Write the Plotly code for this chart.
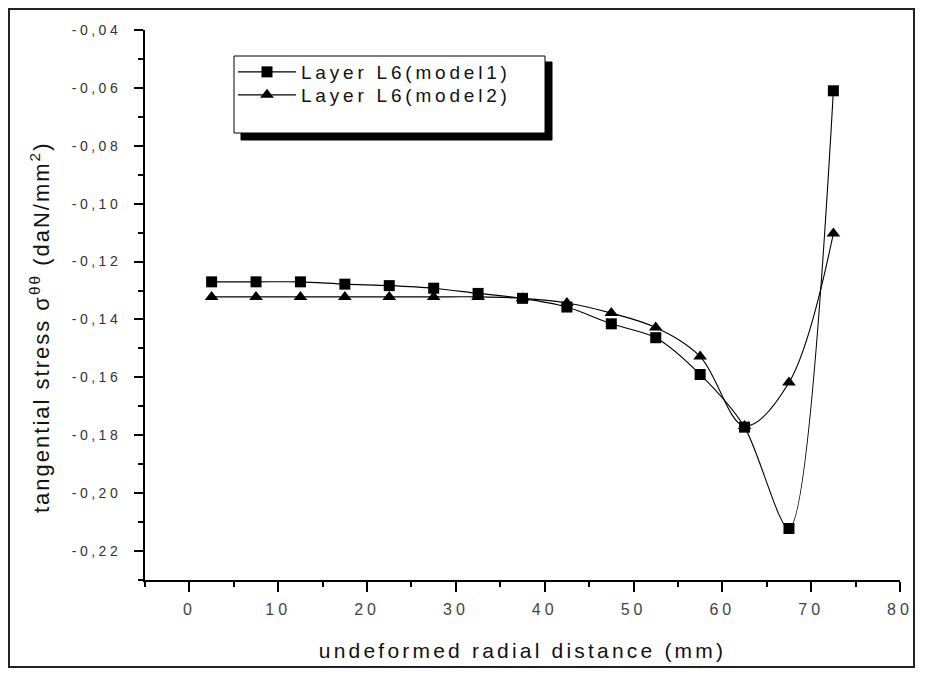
import plotly.graph_objects as go

x_mm = [2.5, 7.5, 12.5, 17.5, 22.5, 27.5, 32.5, 37.5, 42.5, 47.5, 52.5, 57.5, 62.5, 67.5, 72.5]
model1 = [-0.127, -0.127, -0.127, -0.1278, -0.1283, -0.1292, -0.131, -0.1327, -0.1357, -0.1415,
          -0.1463, -0.159, -0.1772, -0.2122, -0.0610]
model2 = [-0.1322, -0.1322, -0.1322, -0.1322, -0.1322, -0.1322, -0.1322, -0.1327, -0.1343, -0.1378,
          -0.1428, -0.1528, -0.1768, -0.1618, -0.1103]
series_names = ["Layer L6(model1)", "Layer L6(model2)"]
x_ticks = [0, 10, 20, 30, 40, 50, 60, 70, 80]
x_tick_labels = ["0", "10", "20", "30", "40", "50", "60", "70", "80"]
y_ticks = [-0.04, -0.06, -0.08, -0.10, -0.12, -0.14, -0.16, -0.18, -0.20, -0.22]
y_tick_labels = ["-0,04", "-0,06", "-0,08", "-0,10", "-0,12", "-0,14", "-0,16", "-0,18", "-0,20", "-0,22"]
x_title = "undeformed radial distance (mm)"
y_title = "tangential stress σ<sup>θθ</sup> (daN/mm<sup>2</sup>)"

FONT = "Liberation Sans, Arial, sans-serif"
OFF = 8  # page offset of the figure inside the browser window
W, H = 925 - OFF, 677 - OFF
ML, MT = 145 - OFF, 30 - OFF
PW, PH = 755, 550
MR, MB = W - ML - PW, H - MT - PH


def px(xr):
    return (xr - OFF - ML) / PW


def py(yr):
    return (H - MB - (yr - OFF)) / PH


def spaced(text, sp):
    return f'<span style="letter-spacing:{sp}px">{text}</span>'


fig = go.Figure()
fig.add_trace(go.Scatter(
    x=x_mm, y=model1, name=spaced(series_names[0], 3.8), mode="lines+markers", legend="legend",
    line=dict(color="black", width=1.1, shape="spline", smoothing=0.8),
    marker=dict(symbol="square", size=11, color="black"),
))
fig.add_trace(go.Scatter(
    x=x_mm, y=model2, name=spaced(series_names[1], 3.8), mode="lines+markers", legend="legend2",
    line=dict(color="black", width=1.1, shape="spline", smoothing=1.0),
    marker=dict(symbol="triangle-up", size=12, color="black"),
))

shapes = [
    dict(type="rect", xref="paper", yref="paper", x0=px(OFF + 1), x1=px(914), y0=py(667), y1=py(OFF + 1),
         line=dict(color="#222", width=2), fillcolor="rgba(0,0,0,0)", layer="below"),
    dict(type="rect", xref="paper", yref="paper", x0=px(241), x1=px(552), y0=py(140), y1=py(62),
         line=dict(color="black", width=1), fillcolor="black", layer="above"),
    dict(type="rect", xref="paper", yref="paper", x0=px(234), x1=px(545), y0=py(133), y1=py(56),
         line=dict(color="black", width=1), fillcolor="white", layer="above"),
]

leg_common = dict(xanchor="left", yanchor="middle", bgcolor="rgba(0,0,0,0)", borderwidth=0,
                  font=dict(family=FONT, size=19, color="#111"), itemwidth=58, tracegroupgap=0)

fig.update_layout(
    width=W, height=H,
    margin=dict(l=ML, r=MR, t=MT, b=MB),
    paper_bgcolor="white", plot_bgcolor="white",
    font=dict(family=FONT, color="black"),
    showlegend=True,
    legend=dict(x=px(233), y=py(72), **leg_common),
    legend2=dict(x=px(233), y=py(95), **leg_common),
    shapes=shapes,
    annotations=[dict(
        text=spaced(y_title, 2.0), textangle=-90, xref="paper", yref="paper",
        x=px(40), y=py(328), xanchor="center", yanchor="middle", showarrow=False,
        font=dict(family=FONT, size=22, color="#111"),
    )],
    xaxis=dict(
        range=[-5, 80], tickvals=x_ticks, ticktext=[spaced(t, 4) for t in x_tick_labels],
        ticks="outside", ticklen=10, tickwidth=2, ticklabelstandoff=4,
        tickcolor="black", showline=True, linecolor="black", linewidth=2,
        showgrid=False, zeroline=False, tickfont=dict(size=16, color="#444"),
        minor=dict(dtick=5, tick0=0, ticks="outside", ticklen=5, tickwidth=2, tickcolor="black",
                   showgrid=False),
        title=dict(text=spaced(x_title, 3.2), font=dict(size=21, color="#111"), standoff=26),
    ),
    yaxis=dict(
        range=[-0.23, -0.04], tickvals=y_ticks, ticktext=[spaced(t, 3.5) for t in y_tick_labels],
        ticks="outside", ticklen=9, ticklabelstandoff=10,
        tickwidth=2, tickcolor="black", showline=True, linecolor="black", linewidth=2,
        showgrid=False, zeroline=False, tickfont=dict(size=14, color="#333"),
        minor=dict(dtick=0.01, tick0=-0.04, ticks="outside", ticklen=5, tickwidth=2,
                   tickcolor="black", showgrid=False),
    ),
)

fig.write_html("out.html")
